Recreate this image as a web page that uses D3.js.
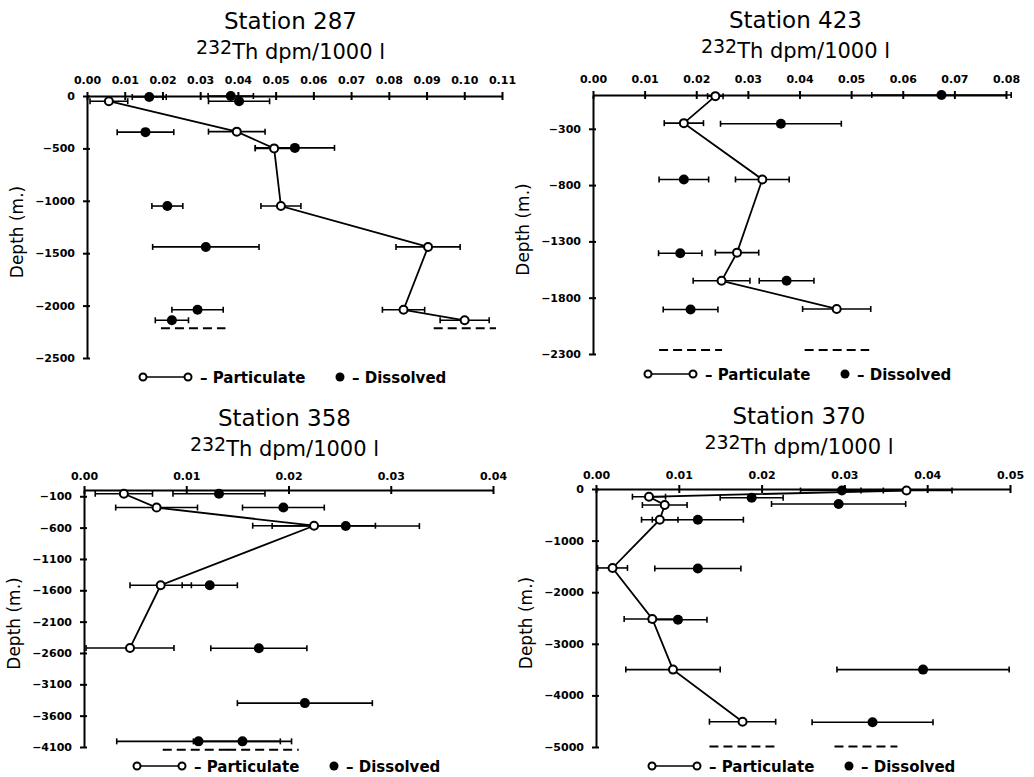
<!DOCTYPE html>
<html>
<head>
<meta charset="utf-8">
<script src="https://cdn.jsdelivr.net/npm/d3@7"></script>
<style>
  body { margin: 0; background: #fff; }
  text { font-family: "DejaVu Sans", sans-serif; fill: #000; }
  .axis path, .axis line { stroke: #000; stroke-width: 2; }
  .axis text { font-size: 11px; font-weight: bold; }
</style>
</head>
<body>
<svg id="chart" width="1034" height="777"></svg>
<script>
// Station 287
var st287_partDepth = [-50, -340, -500, -1050, -1440, -2040, -2140];
var st287_partVal = [0.0058, 0.0397, 0.0496, 0.0514, 0.0904, 0.0839, 0.1001];
var st287_partErr = [0.005, 0.0075, 0.005, 0.0053, 0.0085, 0.0056, 0.0065];
var st287_dissDepth = [-10, 0, -50, -345, -495, -1050, -1440, -2040, -2140];
var st287_dissVal = [0.0165, 0.0381, 0.0403, 0.0155, 0.0551, 0.0213, 0.0315, 0.0293, 0.0225];
var st287_dissErr = [0.0045, 0.006, 0.0081, 0.0075, 0.0105, 0.0041, 0.0141, 0.0068, 0.0044];
var st287_dashes = [[0.0196, 0.0367, -2215], [0.0919, 0.1084, -2215]];
var st287_xTicks = [0, 0.01, 0.02, 0.03, 0.04, 0.05, 0.06, 0.07, 0.08, 0.09, 0.1, 0.11];
var st287_yTicks = [0, -500, -1000, -1500, -2000, -2500];

// Station 423
var st423_partDepth = [-10, -250, -750, -1400, -1650, -1900];
var st423_partVal = [0.0237, 0.0176, 0.0328, 0.0279, 0.0249, 0.0472];
var st423_partErr = [0.0015, 0.0038, 0.0052, 0.0042, 0.0055, 0.0066];
var st423_dissDepth = [0, -255, -750, -1405, -1650, -1905];
var st423_dissVal = [0.0675, 0.0364, 0.0176, 0.0169, 0.0375, 0.0189];
var st423_dissErr = [0.0135, 0.0117, 0.0048, 0.0042, 0.0053, 0.0053];
var st423_dashes = [[0.0128, 0.025, -2265], [0.041, 0.0535, -2265]];
var st423_xTicks = [0, 0.01, 0.02, 0.03, 0.04, 0.05, 0.06, 0.07, 0.08];
var st423_yTicks = [-300, -800, -1300, -1800, -2300];

// Station 358
var st358_partDepth = [-60, -280, -570, -1520, -2520];
var st358_partVal = [0.0039, 0.0071, 0.0225, 0.0075, 0.0045];
var st358_partErr = [0.0028, 0.004, 0.006, 0.003, 0.0043];
var st358_dissDepth = [-60, -280, -575, -1520, -2525, -3400, -4010, -4010];
var st358_dissVal = [0.0132, 0.0195, 0.0256, 0.0123, 0.0171, 0.0216, 0.0112, 0.0155];
var st358_dissErr = [0.0045, 0.004, 0.0072, 0.0027, 0.0047, 0.0066, 0.008, 0.0048];
var st358_dashes = [[0.0077, 0.0145, -4145], [0.014, 0.021, -4145]];
var st358_xTicks = [0, 0.01, 0.02, 0.03, 0.04];
var st358_yTicks = [-100, -600, -1100, -1600, -2100, -2600, -3100, -3600, -4100];

// Station 370
var st370_partDepth = [-30, -150, -310, -595, -1530, -2520, -3500, -4510];
var st370_partVal = [0.0375, 0.0064, 0.0083, 0.0077, 0.002, 0.0068, 0.0093, 0.0177];
var st370_partErr = [0.0055, 0.002, 0.0027, 0.0022, 0.0018, 0.0034, 0.0057, 0.004];
var st370_dissDepth = [-30, -170, -290, -595, -1540, -2535, -3500, -4520];
var st370_dissVal = [0.0297, 0.0188, 0.0293, 0.0123, 0.0123, 0.0099, 0.0395, 0.0334];
var st370_dissErr = [0.005, 0.0038, 0.0081, 0.0055, 0.0052, 0.0035, 0.0104, 0.0073];
var st370_dashes = [[0.0137, 0.0216, -4990], [0.0288, 0.0364, -4990]];
var st370_xTicks = [0, 0.01, 0.02, 0.03, 0.04, 0.05];
var st370_yTicks = [0, -1000, -2000, -3000, -4000, -5000];

var svg = d3.select("#chart");

function drawPanel(p) {
  var x = d3.scaleLinear().domain([0, p.xTicks[p.xTicks.length - 1]]).range([p.left, p.right]);
  var y = d3.scaleLinear().domain([0, p.yTicks[p.yTicks.length - 1]]).range([p.top, p.bottom]);
  var g = svg.append("g");

  // titles
  var cx = (p.left + p.right) / 2 - 4;
  g.append("text").attr("x", cx).attr("y", p.titleY)
    .attr("text-anchor", "middle").style("font-size", "23px").text(p.title);
  var sub = g.append("text").attr("x", cx).attr("y", p.titleY + 30)
    .attr("text-anchor", "middle").style("font-size", "21px");
  sub.append("tspan").attr("dy", -5).style("font-size", "19px").text("232");
  sub.append("tspan").attr("dy", 5).text("Th dpm/1000 l");

  // x axis on top
  g.append("g").attr("class", "axis")
    .attr("transform", "translate(0," + y(0) + ")")
    .call(d3.axisTop(x).tickValues(p.xTicks).tickSize(4).tickSizeOuter(0)
      .tickPadding(p.xPad).tickFormat(d3.format(".2f")));
  g.append("g").attr("class", "axis")
    .attr("transform", "translate(0," + y(0) + ")")
    .call(d3.axisBottom(x).tickValues(p.xTicks).tickSize(4).tickFormat(""))
    .select(".domain").remove();

  // y axis
  g.append("g").attr("class", "axis")
    .attr("transform", "translate(" + x(0) + ",0)")
    .call(d3.axisLeft(y).tickValues(p.yTicks).tickSize(4).tickSizeOuter(0)
      .tickPadding(8).tickFormat(d3.format("d")));
  g.append("g").attr("class", "axis")
    .attr("transform", "translate(" + x(0) + ",0)")
    .call(d3.axisRight(y).tickValues(p.yTicks).tickSize(3).tickFormat(""))
    .select(".domain").remove();

  g.append("text")
    .attr("transform", "translate(" + (p.left - 64) + "," + ((p.top + p.bottom) / 2 + 5) + ") rotate(-90)")
    .attr("text-anchor", "middle").style("font-size", "17px").text("Depth (m.)");

  // error bars
  function errBars(vals, errs, depths) {
    vals.forEach(function (v, i) {
      var x1 = x(v - errs[i]), x2 = x(v + errs[i]), yy = y(depths[i]);
      g.append("line").attr("x1", x1).attr("x2", x2).attr("y1", yy).attr("y2", yy)
        .attr("stroke", "#000").attr("stroke-width", 1.6);
      [x1, x2].forEach(function (xe) {
        g.append("line").attr("x1", xe).attr("x2", xe).attr("y1", yy - 3).attr("y2", yy + 3)
          .attr("stroke", "#000").attr("stroke-width", 1.6);
      });
    });
  }
  errBars(p.partVal, p.partErr, p.partDepth);
  errBars(p.dissVal, p.dissErr, p.dissDepth);

  // dashed bottom markers
  p.dashes.forEach(function (d) {
    g.append("line").attr("x1", x(d[0])).attr("x2", x(d[1]))
      .attr("y1", y(d[2])).attr("y2", y(d[2]))
      .attr("stroke", "#000").attr("stroke-width", 2).attr("stroke-dasharray", "9,5");
  });

  // particulate profile line
  var pts = p.partVal.map(function (v, i) { return [x(v), y(p.partDepth[i])]; });
  g.append("path").attr("d", d3.line()(pts))
    .attr("fill", "none").attr("stroke", "#000").attr("stroke-width", 1.8);

  g.selectAll(null).data(p.dissVal).enter().append("circle")
    .attr("cx", function (d) { return x(d); })
    .attr("cy", function (d, i) { return y(p.dissDepth[i]); })
    .attr("r", 5).attr("fill", "#000");

  g.selectAll(null).data(p.partVal).enter().append("circle")
    .attr("cx", function (d) { return x(d); })
    .attr("cy", function (d, i) { return y(p.partDepth[i]); })
    .attr("r", 4).attr("fill", "#fff").attr("stroke", "#000").attr("stroke-width", 2);

  // legend
  var lx = p.legX, ly = p.legY;
  g.append("line").attr("x1", lx).attr("x2", lx + 45).attr("y1", ly).attr("y2", ly)
    .attr("stroke", "#000").attr("stroke-width", 1.5);
  [lx, lx + 45].forEach(function (cxl) {
    g.append("circle").attr("cx", cxl).attr("cy", ly).attr("r", 3.5)
      .attr("fill", "#fff").attr("stroke", "#000").attr("stroke-width", 2);
  });
  g.append("text").attr("x", lx + 57).attr("y", ly + 5.5)
    .style("font-size", "15px").style("font-weight", "bold").text("\u2013 Particulate");
  g.append("circle").attr("cx", lx + 197).attr("cy", ly).attr("r", 4.5).attr("fill", "#000");
  g.append("text").attr("x", lx + 209).attr("y", ly + 5.5)
    .style("font-size", "15px").style("font-weight", "bold").text("\u2013 Dissolved");
}

drawPanel({
  title: "Station 287", left: 87, right: 502, top: 96, bottom: 358, titleY: 29, xPad: 8,
  legX: 143, legY: 377,
  xTicks: st287_xTicks, yTicks: st287_yTicks,
  partDepth: st287_partDepth, partVal: st287_partVal, partErr: st287_partErr,
  dissDepth: st287_dissDepth, dissVal: st287_dissVal, dissErr: st287_dissErr,
  dashes: st287_dashes
});

drawPanel({
  title: "Station 423", left: 593, right: 1006, top: 95, bottom: 354, titleY: 28, xPad: 8,
  legX: 648, legY: 374,
  xTicks: st423_xTicks, yTicks: st423_yTicks,
  partDepth: st423_partDepth, partVal: st423_partVal, partErr: st423_partErr,
  dissDepth: st423_dissDepth, dissVal: st423_dissVal, dissErr: st423_dissErr,
  dashes: st423_dashes
});

drawPanel({
  title: "Station 358", left: 84, right: 493, top: 490, bottom: 747, titleY: 426, xPad: 6,
  legX: 137, legY: 766,
  xTicks: st358_xTicks, yTicks: st358_yTicks,
  partDepth: st358_partDepth, partVal: st358_partVal, partErr: st358_partErr,
  dissDepth: st358_dissDepth, dissVal: st358_dissVal, dissErr: st358_dissErr,
  dashes: st358_dashes
});

drawPanel({
  title: "Station 370", left: 596, right: 1010, top: 489, bottom: 747, titleY: 424, xPad: 6,
  legX: 652, legY: 766,
  xTicks: st370_xTicks, yTicks: st370_yTicks,
  partDepth: st370_partDepth, partVal: st370_partVal, partErr: st370_partErr,
  dissDepth: st370_dissDepth, dissVal: st370_dissVal, dissErr: st370_dissErr,
  dashes: st370_dashes
});
</script>
</body>
</html>
